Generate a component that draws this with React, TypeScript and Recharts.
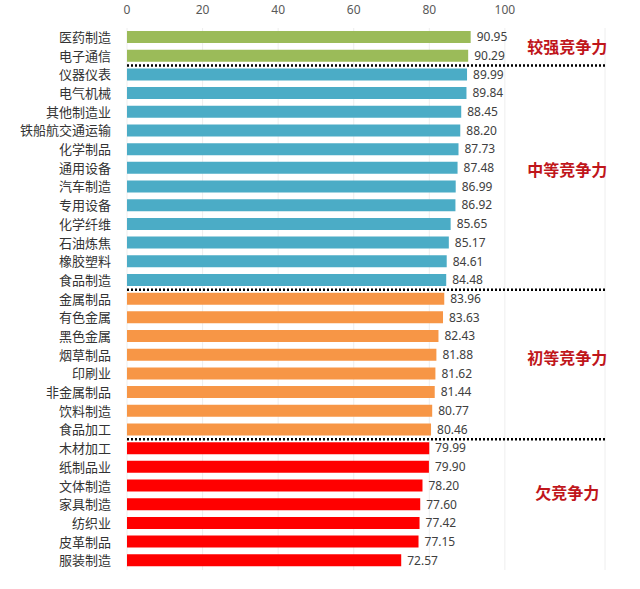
import { BarChart, Bar, XAxis, YAxis, CartesianGrid, Cell, LabelList, ReferenceLine, ReferenceDot } from 'recharts';

// Industry names, top to bottom
const industries = [
  '医药制造', '电子通信',
  '仪器仪表', '电气机械', '其他制造业', '铁船航交通运输', '化学制品', '通用设备',
  '汽车制造', '专用设备', '化学纤维', '石油炼焦', '橡胶塑料', '食品制造',
  '金属制品', '有色金属', '黑色金属', '烟草制品', '印刷业', '非金属制品', '饮料制造', '食品加工',
  '木材加工', '纸制品业', '文体制造', '家具制造', '纺织业', '皮革制品', '服装制造',
];
const scores = [
  90.95, 90.29,
  89.99, 89.84, 88.45, 88.2, 87.73, 87.48, 86.99, 86.92, 85.65, 85.17, 84.61, 84.48,
  83.96, 83.63, 82.43, 81.88, 81.62, 81.44, 80.77, 80.46,
  79.99, 79.9, 78.2, 77.6, 77.42, 77.15, 72.57,
];
// group index per row
const groups = [
  0, 0,
  1, 1, 1, 1, 1, 1, 1, 1, 1, 1, 1, 1,
  2, 2, 2, 2, 2, 2, 2, 2,
  3, 3, 3, 3, 3, 3, 3,
];
const groupNames = ['较强竞争力', '中等竞争力', '初等竞争力', '欠竞争力'];
const groupColors = ['#9bbb59', '#4bacc6', '#f79646', '#ff0000'];
// where the group names sit (row index) and where the dividers go
const groupLabelRows = [0.55, 7.1, 17.2, 24.4];
const dividerRows = [1.5, 13.5, 21.5];
const xTicks = [0, 20, 40, 60, 80, 100];

const data = industries.map((name, i) => ({ name, row: i, score: scores[i], group: groups[i] }));

const App = () => {
  return (
    <div style={{ position: 'absolute', left: 0, top: 0, width: 640, height: 589, background: '#fff' }}>
      <BarChart
        width={640}
        height={589}
        data={data}
        layout="vertical"
        margin={{ top: 0, right: 35, left: 0, bottom: 19 }}
      >
        <CartesianGrid horizontal={false} stroke="#eeeeee" />
        <XAxis
          type="number"
          orientation="top"
          domain={[0, 126.5]}
          ticks={xTicks}
          axisLine={false}
          tickLine={false}
          height={28}
          tickMargin={8}
          tick={{ fontSize: 12, fill: '#595959', fontFamily: 'Noto Sans' }}
        />
        <YAxis
          type="category"
          dataKey="name"
          width={127}
          axisLine={false}
          tickLine={false}
          tickMargin={10}
          tick={{ fontSize: 13, fill: '#333', fontFamily: 'Noto Sans CJK SC' }}
          interval={0}
        />
        <YAxis
          yAxisId="idx"
          type="number"
          dataKey="row"
          domain={[-0.5, 28.5]}
          allowDataOverflow
          hide
        />
        <Bar dataKey="score" barSize={12} isAnimationActive={false}>
          {data.map((d, i) => (
            <Cell key={i} fill={groupColors[d.group]} />
          ))}
          <LabelList
            dataKey="score"
            position="right"
            offset={6}
            formatter={(v: any) => Number(v).toFixed(2)}
            style={{ fontSize: 12, fill: '#404040', fontFamily: 'Noto Sans' }}
          />
        </Bar>
        {dividerRows.map((r) => (
          <ReferenceLine
            key={r}
            yAxisId="idx"
            y={r}
            stroke="#000"
            strokeWidth={2.5}
            strokeDasharray="2 2"
          />
        ))}
        {groupNames.map((g, i) => (
          <ReferenceDot
            key={g}
            yAxisId="idx"
            x={116.5}
            y={groupLabelRows[i]}
            r={0}
            fill="none"
            stroke="none"
            label={{
              value: g,
              position: 'center',
              fill: '#c0161b',
              fontSize: 16,
              fontFamily: 'Noto Sans CJK SC',
              fontWeight: 'bold',
            }}
          />
        ))}
      </BarChart>
    </div>
  );
};

export default App;
